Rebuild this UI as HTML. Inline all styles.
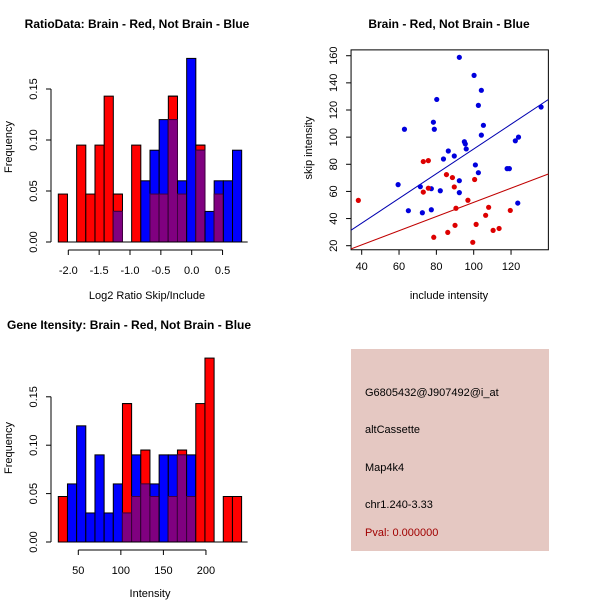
<!DOCTYPE html>
<html><head><meta charset="utf-8"><style>
html,body{margin:0;padding:0;background:#fff;}
svg{display:block;font-family:"Liberation Sans",Arial,sans-serif;}
</style></head><body>
<svg id="s" width="600" height="600" xmlns="http://www.w3.org/2000/svg"></svg>
<script>
// ---- Ratio histogram data ----
const ratioBinStart = -2.162;
const ratioBinWidth = 0.1486;
const ratioRed  = [0.047,0,0.095,0.047,0.095,0.143,0.047,0,0.095,0,0.047,0.047,0.143,0.047,0,0.095,0,0.047,0,0];
const ratioBlue = [0,0,0,0,0,0,0.03,0,0,0.06,0.09,0.12,0.12,0.06,0.18,0.09,0.03,0.06,0.06,0.09];
const ratioXTicks = [-2.0,-1.5,-1.0,-0.5,0.0,0.5];
const ratioXTickLabels = ["-2.0","-1.5","-1.0","-0.5","0.0","0.5"];
const freqTicks = [0,0.05,0.10,0.15];
const freqTickLabels = ["0.00","0.05","0.10","0.15"];
// ---- Intensity histogram data ----
const intBinStart = 26.5;
const intBinWidth = 10.77;
const intRed  = [0.047,0,0,0,0,0,0,0.143,0.047,0.095,0.047,0,0.047,0.095,0.047,0.143,0.19,0,0.047,0.047];
const intBlue = [0,0.06,0.12,0.03,0.09,0.03,0.06,0.03,0.09,0.06,0.06,0.09,0.09,0.09,0.09,0,0,0,0,0];
const intXTicks = [50,100,150,200];
const intXTickLabels = ["50","100","150","200"];
// ---- Scatter data ----
const blueX = [92.3,100.2,104.1,102.5,80.2,136.1,78.4,62.9,78.9,105.2,104.1,124,122.3,95,95.5,96,86.4,89.6,83.8,100.9,102.5,117.9,119.1,59.5,71.4,77.3,82.1,92.3,92.3,65,72.5,77.3,123.6];
const blueY = [158.8,145.5,134.5,123.4,127.8,122.2,111,105.8,105.8,108.7,101.5,100,97.3,96.6,95,91.3,89.8,86.1,83.9,79.5,73.8,76.8,76.8,65,63.5,62,60.5,67.9,59.1,45.8,44.3,46.5,51.4];
const redX = [38.2,73,75.7,85.4,88.6,100.5,89.6,75.7,73,96.9,90.5,108,106.4,119.6,90,101.3,110.4,113.6,86.1,78.6,99.5];
const redY = [53.4,82,82.7,72.4,70.2,68.8,63.3,62.4,59.5,53.5,47.6,48.3,42.4,46,35,35.7,31.3,32.7,29.8,26.2,22.5];
const blueFit = [0.17,0.911];
const redFit = [-0.26,0.522];
const scXTicks = [40,60,80,100,120];
const scYTicks = [20,40,60,80,100,120,140,160];

const NS="http://www.w3.org/2000/svg";
const svg=document.getElementById('s');
function mk(tag,attrs,parent){const e=document.createElementNS(NS,tag);for(const k in attrs)e.setAttribute(k,attrs[k]);(parent||svg).appendChild(e);return e;}
function txt(x,y,s,size,anchor,rot,weight,fill){const t=mk('text',{x:x,y:y,'font-size':size,'text-anchor':anchor||'middle',fill:fill||'#000'});if(weight)t.setAttribute('font-weight',weight);if(rot)t.setAttribute('transform','rotate(-90 '+x+' '+y+')');t.textContent=s;return t;}

function hist(opts){
  const g=mk('g',{});
  
  
  const xs=v=>opts.x0px+(v-opts.x0)*opts.xScale;
  const ys=v=>opts.y0px-v*opts.yScale;
  const n=opts.red.length;
  for(let i=0;i<n;i++){
    const l=xs(opts.binStart+i*opts.binWidth), r=xs(opts.binStart+(i+1)*opts.binWidth);
    const rv=opts.red[i], bv=opts.blue[i];
    if(rv>0){const b=mk('rect',{x:l,y:ys(rv),width:r-l,height:ys(0)-ys(rv),fill:'#ff0000',stroke:'#000','stroke-width':1},g);
      
      }
    if(bv>0){const b=mk('rect',{x:l,y:ys(bv),width:r-l,height:ys(0)-ys(bv),fill:'#0000ff',stroke:'#000','stroke-width':1},g);
      
      }
    if(rv>0&&bv>0){const m=Math.min(rv,bv);const b=mk('rect',{x:l,y:ys(m),width:r-l,height:ys(0)-ys(m),fill:'#800080',stroke:'#400040','stroke-width':1},g);
      
      
      if(rv>bv){mk('line',{x1:l,x2:r,y1:ys(rv),y2:ys(rv),stroke:'#000'},g);}
    }
  }
  mk('line',{x1:xs(opts.binStart),x2:xs(opts.binStart+n*opts.binWidth)+6,y1:ys(0),y2:ys(0),stroke:'#000'},g);
  const xa=mk('g',{},g);
  
  
  const ay=ys(0)+8;
  mk('line',{x1:xs(opts.xTicks[0]),x2:xs(opts.xTicks[opts.xTicks.length-1]),y1:ay,y2:ay,stroke:'#000'},xa);
  opts.xTicks.forEach((v,i)=>{mk('line',{x1:xs(v),x2:xs(v),y1:ay,y2:ay+5,stroke:'#000'},xa);xa.appendChild(txt(xs(v),ay+24,opts.xLabels[i],11));});
  const ya=mk('g',{},g);
  
  
  const ax=opts.yAxisX;
  mk('line',{x1:ax,x2:ax,y1:ys(0),y2:ys(0.15),stroke:'#000'},ya);
  freqTicks.forEach((v,i)=>{mk('line',{x1:ax-5,x2:ax,y1:ys(v),y2:ys(v),stroke:'#000'},ya);ya.appendChild(txt(ax-14,ys(v),freqTickLabels[i],11,'middle',1));});
}

hist({name:'ratio-histogram',red:ratioRed,blue:ratioBlue,binStart:ratioBinStart,binWidth:ratioBinWidth,x0:-2.0,x0px:68.3,xScale:61.7,y0px:242,yScale:1020,xTicks:ratioXTicks,xLabels:ratioXTickLabels,yAxisX:51});
hist({name:'intensity-histogram',red:intRed,blue:intBlue,binStart:intBinStart,binWidth:intBinWidth,x0:50,x0px:78.3,xScale:0.851,y0px:542,yScale:968,xTicks:intXTicks,xLabels:intXTickLabels,yAxisX:51});

let t;
t=txt(137,28,'RatioData: Brain - Red, Not Brain - Blue',12,'middle',0,'bold');


t=txt(147,299,'Log2 Ratio Skip/Include',11);


t=txt(12,147,'Frequency',11,'middle',1);


t=txt(7,329,'Gene Itensity: Brain - Red, Not Brain - Blue',12,'start',0,'bold');


t=txt(150,597,'Intensity',11);


t=txt(12,448,'Frequency',11,'middle',1);



const sx=v=>361.7+(v-40)*1.8667;
const sy=v=>245.7-(v-20)*1.357;
const xmin=34.3,xmax=140,ymin=17.0,ymax=164.3;
const sg=mk('g',{});


mk('rect',{x:sx(xmin),y:sy(ymax),width:sx(xmax)-sx(xmin),height:sy(ymin)-sy(ymax),fill:'none',stroke:'#000'},sg);
const cp=mk('clipPath',{id:'cp'},sg);
mk('rect',{x:sx(xmin),y:sy(ymax),width:sx(xmax)-sx(xmin),height:sy(ymin)-sy(ymax)},cp);
const bl=mk('line',{x1:sx(xmin),y1:sy(blueFit[0]+blueFit[1]*xmin),x2:sx(xmax),y2:sy(blueFit[0]+blueFit[1]*xmax),stroke:'#0000b0','clip-path':'url(#cp)'},sg);


const rl=mk('line',{x1:sx(xmin),y1:sy(redFit[0]+redFit[1]*xmin),x2:sx(xmax),y2:sy(redFit[0]+redFit[1]*xmax),stroke:'#c00000','clip-path':'url(#cp)'},sg);


blueX.forEach((v,i)=>{const c=mk('circle',{cx:sx(v),cy:sy(blueY[i]),r:2.6,fill:'#0000dd'},sg);
  
  });
redX.forEach((v,i)=>{const c=mk('circle',{cx:sx(v),cy:sy(redY[i]),r:2.6,fill:'#dd0000'},sg);
  
  });
scXTicks.forEach(v=>{mk('line',{x1:sx(v),x2:sx(v),y1:sy(ymin),y2:sy(ymin)+5,stroke:'#000'},sg);sg.appendChild(txt(sx(v),sy(ymin)+20,String(v),11));});
scYTicks.forEach(v=>{mk('line',{x1:sx(xmin)-5,x2:sx(xmin),y1:sy(v),y2:sy(v),stroke:'#000'},sg);sg.appendChild(txt(sx(xmin)-14,sy(v),String(v),11,'middle',1));});
t=txt(449,28,'Brain - Red, Not Brain - Blue',12,'middle',0,'bold');


t=txt(449,299,'include intensity',11);


t=txt(312,148,'skip intensity',11,'middle',1);



const ib=mk('rect',{x:351,y:349,width:198,height:202,fill:'#e5c8c2'});


const info=[['G6805432@J907492@i_at',396,'#000','probe-id'],['altCassette',433,'#000','event-type'],['Map4k4',471,'#000','gene-name'],['chr1.240-3.33',508,'#000','location'],['Pval: 0.000000',536,'#a00000','p-value']];
info.forEach(a=>{const e=txt(365,a[1],a[0],11,'start',0,0,a[2]);
  
  });
</script>
</body></html>
